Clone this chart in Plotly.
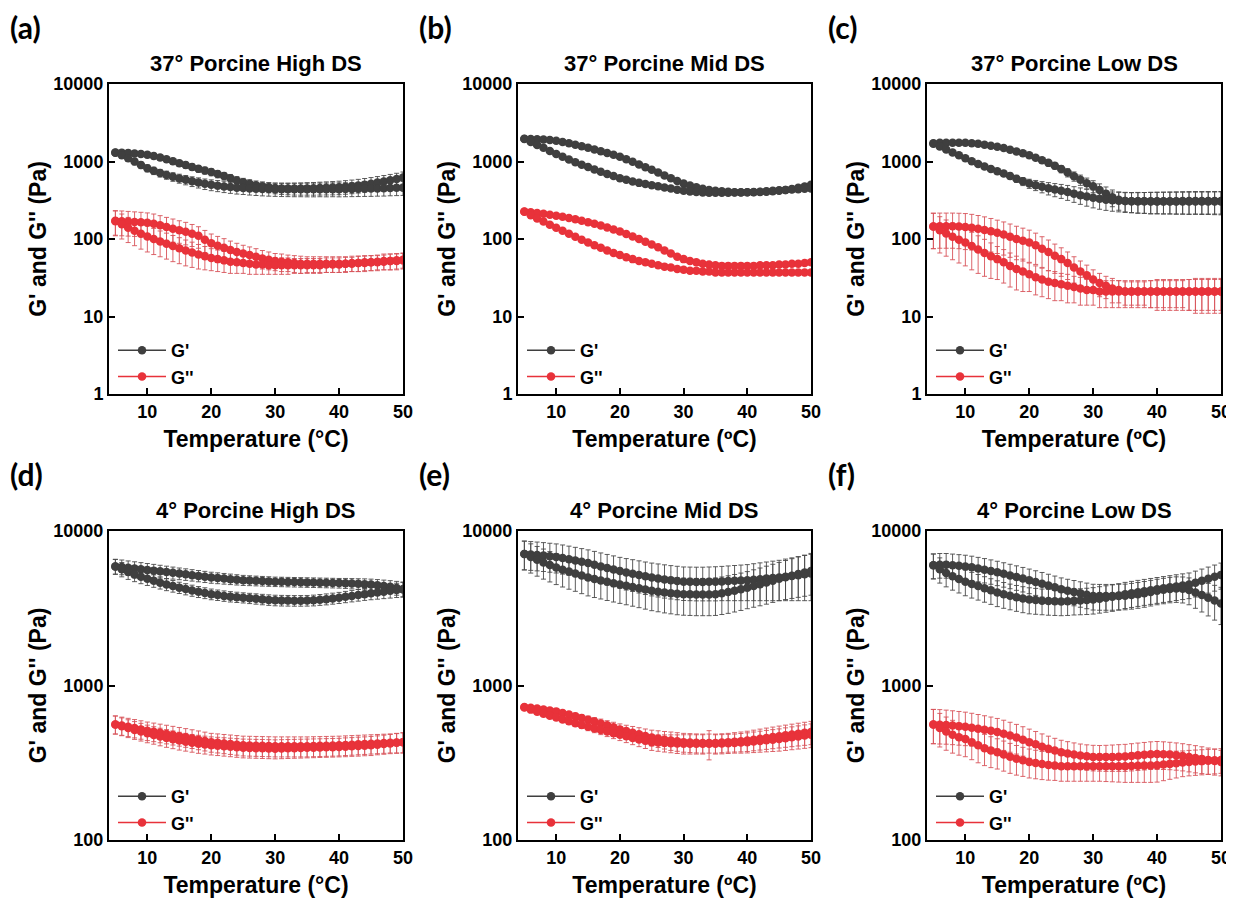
import plotly.graph_objects as go

# ---------------- data ----------------
TEMP = [5, 6, 7, 8, 9, 10, 11, 12, 13, 14, 15, 16, 17, 18, 19, 20, 21, 22, 23, 24, 25, 26, 27,
        28, 29, 30, 31, 32, 33, 34, 35, 36, 37, 38, 39, 40, 41, 42, 43, 44, 45, 46, 47, 48, 49, 50]

PANEL_TITLES = ["37° Porcine High DS", "37° Porcine Mid DS", "37° Porcine Low DS",
                "4° Porcine High DS", "4° Porcine Mid DS", "4° Porcine Low DS"]
PANEL_LABELS = ["(a)", "(b)", "(c)", "(d)", "(e)", "(f)"]
X_TITLES = ["Temperature (°C)", "Temperature (ºC)", "Temperature (ºC)",
            "Temperature (°C)", "Temperature (ºC)", "Temperature (ºC)"]
Y_TITLE = "G' and G'' (Pa)"
X_TICKS = [10, 20, 30, 40, 50]
Y_TICKS_TOP = [1, 10, 100, 1000, 10000]
Y_TICKS_BOTTOM = [100, 1000, 10000]
SERIES_NAMES = ["G'", "G''"]

# (a) 37° High DS
A_GP_UP = [1310, 1300, 1290, 1270, 1250, 1220, 1180, 1130, 1070, 1010, 950, 900, 850, 805, 765, 730, 690, 650, 610, 570, 540, 515, 495,
           478, 465, 455, 450, 448, 447, 448, 450, 452, 455, 458, 461, 465, 472, 480, 490, 503, 518, 535, 553, 573, 595, 620]
A_GP_DN = [1300, 1200, 1100, 1000, 900, 820, 760, 710, 670, 635, 605, 580, 555, 535, 515, 500, 488, 477, 468, 460, 455, 450, 446,
           443, 441, 440, 439, 438, 438, 438, 438, 438, 439, 439, 440, 440, 441, 442, 444, 445, 447, 449, 451, 454, 457, 460]
A_GP_UP_ERR = [110, 110, 110, 105, 100, 100, 98, 95, 92, 90, 88, 85, 82, 80, 78, 76, 74, 72, 70, 68, 66, 66, 66,
               68, 70, 72, 74, 76, 78, 80, 82, 84, 86, 88, 90, 92, 94, 96, 98, 100, 102, 104, 106, 108, 110, 112]
A_GP_DN_ERR = [110, 105, 100, 95, 90, 85, 82, 80, 80, 80, 80, 80, 80, 80, 80, 80, 80, 80, 80, 80, 80, 81, 82,
               83, 84, 85, 86, 86, 87, 87, 88, 88, 88, 89, 89, 90, 90, 90, 91, 91, 92, 92, 93, 93, 94, 95]
A_GPP_UP = [172, 170, 168, 166, 164, 162, 157, 150, 143, 136, 130, 124, 117, 110, 98, 88, 82, 77, 72, 68, 65, 62, 59,
            56, 54, 52, 51, 50, 49, 48, 48, 48, 48, 48, 48, 48, 48, 49, 49, 50, 50, 51, 52, 52, 53, 54]
A_GPP_DN = [170, 155, 140, 128, 117, 108, 100, 93, 87, 81, 76, 71, 67, 63, 60, 57, 55, 53, 51, 50, 49, 48, 47,
            47, 46, 46, 46, 46, 46, 46, 46, 46, 46, 47, 47, 47, 48, 48, 49, 49, 50, 50, 51, 52, 52, 53]
A_GPP_UP_ERR = [60, 60, 59, 58, 57, 55, 53, 50, 47, 45, 42, 40, 37, 34, 31, 28, 26, 24, 22, 20, 18, 17, 16,
                15, 14, 13, 13, 12, 12, 12, 11, 11, 11, 11, 11, 11, 11, 11, 11, 11, 11, 11, 12, 12, 12, 12]
A_GPP_DN_ERR = [60, 55, 50, 46, 43, 40, 37, 34, 32, 30, 28, 26, 24, 22, 20, 18, 17, 16, 15, 14, 13, 13, 12,
                12, 11, 11, 11, 11, 10, 10, 10, 10, 10, 10, 10, 10, 10, 10, 11, 11, 11, 11, 11, 12, 12, 12]

# (b) 37° Mid DS
B_GP_UP = [1960, 1950, 1940, 1920, 1890, 1850, 1790, 1720, 1650, 1575, 1500, 1430, 1360, 1290, 1220, 1150, 1070, 990, 915, 845, 780, 720, 660,
           610, 560, 520, 490, 465, 445, 430, 420, 412, 406, 402, 400, 400, 401, 404, 408, 414, 420, 430, 443, 458, 477, 500]
B_GP_DN = [1950, 1780, 1630, 1500, 1370, 1250, 1150, 1060, 980, 910, 850, 790, 735, 690, 648, 610, 580, 553, 530, 512, 495, 478, 462,
           447, 433, 420, 411, 404, 399, 396, 395, 395, 396, 397, 398, 400, 403, 407, 412, 418, 425, 430, 435, 440, 445, 450]
B_GP_UP_ERR = [80, 78, 76, 74, 72, 70, 68, 66, 63, 60, 57, 54, 51, 48, 46, 44, 42, 39, 36, 34, 32, 30, 28,
               26, 24, 22, 21, 20, 19, 18, 18, 18, 18, 18, 18, 18, 18, 18, 19, 19, 20, 20, 21, 22, 23, 24]
B_GP_DN_ERR = [80, 72, 66, 60, 55, 50, 46, 43, 40, 37, 35, 33, 31, 29, 27, 26, 25, 24, 23, 22, 21, 20, 20,
               19, 19, 18, 18, 18, 18, 18, 18, 18, 18, 18, 18, 18, 18, 18, 18, 19, 19, 19, 20, 20, 20, 21]
B_GPP_UP = [226, 222, 217, 212, 206, 200, 194, 187, 180, 172, 165, 157, 149, 141, 133, 125, 116, 108, 100, 92, 85, 78, 71,
            65, 59, 55, 52, 50, 48, 47, 46, 45, 45, 45, 45, 45, 45, 46, 46, 46, 47, 47, 48, 48, 49, 50]
B_GPP_DN = [224, 203, 184, 168, 153, 140, 128, 117, 107, 98, 90, 83, 77, 71, 66, 62, 58, 55, 52, 50, 48, 46, 44,
            43, 41, 40, 39, 39, 38, 38, 37, 37, 37, 37, 37, 37, 37, 37, 37, 37, 37, 37, 37, 37, 37, 37]
B_GPP_UP_ERR = [14, 14, 13, 13, 12, 12, 11, 11, 10, 10, 9, 9, 8, 8, 7, 7, 6, 6, 5, 5, 5, 4, 4,
                4, 3, 3, 3, 3, 3, 3, 3, 3, 3, 3, 3, 3, 3, 3, 3, 3, 3, 3, 3, 3, 3, 3]
B_GPP_DN_ERR = [14, 12, 11, 10, 9, 8, 8, 7, 6, 6, 5, 5, 5, 4, 4, 4, 4, 3, 3, 3, 3, 3, 3,
                3, 3, 2, 2, 2, 2, 2, 2, 2, 2, 2, 2, 2, 2, 2, 2, 2, 2, 2, 2, 2, 2, 2]

# (c) 37° Low DS
C_GP_UP = [1720, 1740, 1750, 1750, 1750, 1740, 1720, 1690, 1650, 1600, 1550, 1490, 1420, 1350, 1275, 1200, 1120, 1040, 960, 880, 800, 720, 645,
           580, 525, 480, 430, 385, 345, 320, 310, 307, 306, 306, 306, 307, 307, 308, 308, 309, 309, 310, 310, 310, 310, 310]
C_GP_DN = [1700, 1560, 1430, 1310, 1200, 1100, 1010, 930, 860, 800, 750, 700, 650, 600, 555, 520, 495, 472, 452, 435, 420, 403, 385,
           368, 353, 340, 330, 322, 316, 312, 310, 308, 307, 306, 305, 305, 305, 305, 305, 305, 305, 305, 305, 305, 305, 305]
C_GP_UP_ERR = [60, 60, 60, 60, 60, 60, 60, 60, 60, 62, 64, 66, 68, 70, 72, 75, 78, 80, 82, 84, 86, 88, 88,
               88, 86, 85, 84, 84, 84, 85, 86, 88, 90, 92, 94, 95, 96, 97, 98, 99, 100, 100, 100, 100, 100, 100]
C_GP_DN_ERR = [60, 56, 52, 50, 48, 46, 45, 45, 46, 48, 50, 54, 58, 62, 66, 70, 74, 78, 82, 84, 86, 88, 88,
               88, 88, 88, 88, 88, 88, 88, 90, 90, 92, 92, 94, 94, 95, 95, 96, 96, 97, 97, 98, 98, 99, 100]
C_GPP_UP = [145, 146, 146, 146, 145, 143, 140, 136, 131, 126, 120, 114, 107, 100, 95, 90, 83, 75, 68, 61, 55, 49, 43,
            38, 34, 30, 27, 25, 23, 22, 21, 21, 21, 21, 21, 21, 21, 21, 21, 21, 21, 21, 21, 21, 21, 21]
C_GPP_DN = [145, 130, 118, 107, 98, 90, 81, 73, 66, 60, 55, 50, 45, 41, 38, 35, 32, 30, 28, 27, 26, 25, 24,
            23, 22, 22, 21, 21, 21, 21, 21, 21, 21, 21, 21, 21, 21, 21, 21, 21, 21, 21, 21, 21, 21, 21]
C_GPP_UP_ERR = [70, 70, 70, 70, 70, 70, 68, 65, 62, 58, 55, 52, 49, 46, 43, 40, 36, 32, 29, 25, 22, 19, 16,
                14, 12, 10, 9, 8, 8, 7, 7, 7, 7, 7, 8, 8, 8, 8, 8, 8, 9, 9, 9, 9, 9, 9]
C_GPP_DN_ERR = [70, 64, 58, 53, 49, 45, 41, 37, 33, 29, 25, 23, 21, 19, 17, 14, 13, 12, 11, 11, 10, 10, 9,
                9, 8, 8, 8, 8, 8, 8, 8, 8, 8, 8, 8, 9, 9, 9, 9, 9, 9, 10, 10, 10, 10, 10]

# (d) 4° High DS
D_GP_UP = [5900, 5850, 5780, 5720, 5660, 5600, 5540, 5480, 5420, 5360, 5300, 5240, 5180, 5120, 5060, 5000, 4960, 4920, 4880, 4840, 4800, 4780, 4760,
           4740, 4720, 4700, 4690, 4680, 4670, 4660, 4650, 4640, 4630, 4620, 4610, 4600, 4590, 4570, 4550, 4530, 4500, 4460, 4410, 4350, 4280, 4200]
D_GP_DN = [5900, 5650, 5420, 5220, 5050, 4900, 4760, 4630, 4510, 4400, 4300, 4210, 4120, 4040, 3970, 3900, 3850, 3800, 3760, 3730, 3700, 3670, 3640,
           3610, 3580, 3560, 3550, 3545, 3540, 3540, 3545, 3560, 3590, 3620, 3660, 3700, 3750, 3800, 3850, 3900, 3950, 4000, 4050, 4100, 4150, 4200]
D_GP_UP_ERR = [650, 640, 620, 600, 580, 560, 540, 520, 500, 480, 460, 450, 440, 430, 420, 410, 400, 390, 380, 370, 360, 350, 345,
               340, 335, 330, 330, 330, 330, 330, 330, 330, 330, 330, 330, 330, 340, 350, 360, 370, 380, 390, 400, 420, 440, 460]
D_GP_DN_ERR = [650, 600, 560, 520, 490, 460, 440, 420, 400, 380, 360, 350, 340, 330, 320, 310, 300, 295, 290, 285, 280, 280, 280,
               280, 280, 280, 280, 280, 280, 280, 280, 285, 290, 295, 300, 305, 315, 325, 335, 345, 360, 380, 400, 420, 440, 460]
D_GPP_UP = [560, 550, 540, 530, 520, 510, 502, 494, 486, 478, 470, 462, 454, 446, 438, 430, 426, 422, 418, 414, 410, 409, 408,
            407, 406, 405, 405, 405, 405, 405, 405, 406, 407, 408, 409, 410, 412, 414, 416, 418, 420, 422, 424, 426, 428, 430]
D_GPP_DN = [560, 545, 530, 516, 503, 490, 479, 468, 458, 449, 440, 433, 426, 420, 415, 410, 407, 404, 401, 398, 395, 394, 393,
            392, 391, 390, 391, 392, 393, 394, 395, 396, 397, 398, 399, 400, 402, 404, 406, 408, 410, 414, 418, 422, 426, 430]
D_GPP_UP_ERR = [75, 74, 73, 72, 71, 70, 69, 68, 67, 66, 65, 64, 63, 62, 61, 60, 60, 60, 60, 60, 60, 60, 60,
                60, 60, 60, 60, 60, 60, 60, 60, 60, 60, 60, 60, 60, 60, 60, 60, 60, 60, 60, 60, 60, 62, 64]
D_GPP_DN_ERR = [75, 72, 70, 68, 66, 64, 62, 61, 60, 59, 58, 57, 56, 56, 55, 55, 55, 55, 55, 55, 55, 55, 55,
                55, 55, 55, 55, 55, 55, 55, 55, 55, 55, 55, 55, 55, 56, 56, 57, 57, 58, 58, 59, 60, 62, 64]

# (e) 4° Mid DS
E_GP_UP = [7100, 7050, 7000, 6940, 6870, 6800, 6690, 6570, 6450, 6320, 6200, 6050, 5900, 5760, 5630, 5500, 5390, 5290, 5190, 5090, 5000, 4930, 4860,
           4800, 4750, 4700, 4690, 4680, 4680, 4690, 4700, 4720, 4740, 4760, 4780, 4800, 4840, 4880, 4920, 4960, 5000, 5060, 5120, 5180, 5240, 5300]
E_GP_DN = [7100, 6800, 6520, 6260, 6020, 5800, 5620, 5460, 5310, 5150, 5000, 4890, 4790, 4690, 4590, 4500, 4420, 4340, 4260, 4180, 4100, 4050, 4000,
           3960, 3920, 3900, 3890, 3880, 3880, 3880, 3900, 3960, 4030, 4110, 4200, 4300, 4410, 4520, 4640, 4770, 4900, 5020, 5140, 5260, 5380, 5500]
E_GP_UP_ERR = [1500, 1490, 1480, 1470, 1460, 1450, 1430, 1410, 1390, 1370, 1350, 1330, 1310, 1290, 1270, 1250, 1240, 1230, 1220, 1210, 1200, 1190, 1180,
               1170, 1160, 1150, 1150, 1150, 1150, 1160, 1170, 1180, 1200, 1220, 1240, 1260, 1300, 1340, 1380, 1420, 1460, 1520, 1580, 1640, 1700, 1760]
E_GP_DN_ERR = [1500, 1460, 1420, 1380, 1340, 1300, 1280, 1260, 1240, 1220, 1200, 1180, 1160, 1140, 1120, 1100, 1090, 1080, 1070, 1060, 1050, 1050, 1050,
               1050, 1050, 1050, 1050, 1050, 1050, 1050, 1060, 1080, 1100, 1120, 1140, 1160, 1200, 1240, 1280, 1320, 1360, 1420, 1480, 1540, 1600, 1660]
E_GPP_UP = [725, 718, 710, 700, 690, 680, 664, 648, 632, 616, 600, 584, 568, 552, 536, 520, 507, 495, 483, 471, 460, 453, 446,
            440, 435, 430, 428, 426, 425, 425, 425, 427, 430, 433, 436, 440, 446, 452, 458, 464, 470, 476, 482, 488, 494, 500]
E_GPP_DN = [720, 698, 677, 657, 638, 620, 603, 586, 570, 555, 540, 527, 515, 503, 491, 480, 469, 458, 448, 439, 430, 427, 425,
            423, 421, 420, 420, 420, 420, 420, 420, 421, 423, 425, 427, 430, 434, 438, 442, 446, 450, 456, 462, 468, 474, 480]
E_GPP_UP_ERR = [20, 20, 21, 22, 23, 24, 26, 28, 30, 32, 34, 36, 38, 40, 42, 44, 46, 48, 50, 52, 54, 56, 58,
                60, 60, 60, 60, 60, 60, 60, 60, 60, 60, 62, 64, 66, 68, 70, 72, 74, 76, 78, 80, 82, 84, 86]
E_GPP_DN_ERR = [20, 20, 21, 22, 23, 24, 25, 26, 27, 28, 30, 32, 34, 36, 38, 40, 42, 44, 46, 48, 50, 52, 54,
                56, 58, 60, 60, 60, 60, 90, 60, 60, 60, 60, 62, 64, 66, 68, 70, 72, 74, 76, 78, 80, 82, 84]

# (f) 4° Low DS
F_GP_UP = [6000, 6050, 6050, 6000, 5950, 5900, 5820, 5720, 5620, 5510, 5400, 5280, 5160, 5040, 4920, 4800, 4680, 4560, 4440, 4320, 4200, 4110, 4030,
           3950, 3870, 3800, 3790, 3790, 3790, 3800, 3810, 3850, 3900, 3960, 4030, 4100, 4160, 4220, 4250, 4230, 4150, 4000, 3850, 3700, 3550, 3400]
F_GP_DN = [6000, 5650, 5350, 5100, 4890, 4700, 4540, 4400, 4260, 4130, 4000, 3900, 3810, 3730, 3660, 3600, 3570, 3540, 3520, 3510, 3500, 3510, 3530,
           3550, 3570, 3600, 3650, 3700, 3750, 3820, 3900, 3960, 4020, 4080, 4140, 4200, 4260, 4320, 4380, 4440, 4500, 4620, 4760, 4900, 5050, 5200]
F_GP_UP_ERR = [1100, 1100, 1100, 1090, 1080, 1070, 1050, 1030, 1010, 990, 970, 950, 930, 910, 890, 870, 850, 830, 810, 790, 770, 760, 750,
               740, 730, 720, 720, 720, 720, 720, 720, 730, 740, 750, 760, 770, 780, 790, 800, 810, 820, 840, 860, 880, 900, 920]
F_GP_DN_ERR = [1100, 1050, 1000, 960, 920, 890, 860, 830, 800, 780, 760, 740, 720, 710, 700, 690, 680, 670, 670, 670, 670, 670, 670,
               680, 690, 700, 710, 720, 730, 740, 750, 760, 770, 780, 790, 800, 810, 820, 830, 840, 850, 880, 910, 940, 970, 1000]
F_GPP_UP = [560, 558, 555, 550, 545, 540, 533, 525, 517, 509, 500, 488, 474, 460, 445, 430, 416, 402, 390, 379, 370, 363, 357,
            352, 348, 345, 344, 344, 345, 346, 347, 350, 353, 356, 359, 360, 359, 357, 354, 350, 345, 340, 335, 330, 325, 320]
F_GPP_DN = [560, 530, 503, 480, 463, 450, 430, 410, 393, 380, 370, 358, 346, 336, 328, 320, 315, 310, 306, 303, 300, 300, 300,
            300, 300, 300, 300, 300, 300, 300, 300, 301, 302, 303, 304, 305, 308, 311, 314, 317, 320, 322, 324, 326, 328, 330]
F_GPP_UP_ERR = [140, 140, 138, 136, 134, 132, 128, 124, 120, 116, 112, 108, 104, 100, 96, 92, 88, 84, 80, 76, 72, 70, 68,
                66, 65, 65, 65, 66, 67, 68, 69, 70, 71, 72, 73, 74, 73, 72, 71, 70, 69, 68, 66, 64, 62, 60]
F_GPP_DN_ERR = [140, 130, 122, 115, 109, 104, 99, 94, 90, 86, 82, 79, 76, 73, 70, 68, 66, 64, 62, 60, 60, 60, 60,
                60, 60, 60, 60, 61, 62, 63, 64, 65, 66, 67, 68, 68, 66, 64, 62, 60, 60, 60, 60, 60, 60, 60]

GP_LISTS = [(A_GP_UP, A_GP_DN, A_GP_UP_ERR, A_GP_DN_ERR), (B_GP_UP, B_GP_DN, B_GP_UP_ERR, B_GP_DN_ERR),
            (C_GP_UP, C_GP_DN, C_GP_UP_ERR, C_GP_DN_ERR), (D_GP_UP, D_GP_DN, D_GP_UP_ERR, D_GP_DN_ERR),
            (E_GP_UP, E_GP_DN, E_GP_UP_ERR, E_GP_DN_ERR), (F_GP_UP, F_GP_DN, F_GP_UP_ERR, F_GP_DN_ERR)]
GPP_LISTS = [(A_GPP_UP, A_GPP_DN, A_GPP_UP_ERR, A_GPP_DN_ERR), (B_GPP_UP, B_GPP_DN, B_GPP_UP_ERR, B_GPP_DN_ERR),
             (C_GPP_UP, C_GPP_DN, C_GPP_UP_ERR, C_GPP_DN_ERR), (D_GPP_UP, D_GPP_DN, D_GPP_UP_ERR, D_GPP_DN_ERR),
             (E_GPP_UP, E_GPP_DN, E_GPP_UP_ERR, E_GPP_DN_ERR), (F_GPP_UP, F_GPP_DN, F_GPP_UP_ERR, F_GPP_DN_ERR)]

# ---------------- styling / layout ----------------
W, H = 1234, 902
OFF = 8  # page body margin offset compensation
FONT = "Liberation Sans, Arial, sans-serif"
C_GP = "#3f3f3f"
C_GPP = "#e8323a"
C_GP_ERR = "#4a4a4a"
C_GPP_ERR = "#d8545a"

# plot boxes in page pixels: left, right, top, bottom
BOX_X = [(109, 403), (518, 811), (927, 1221)]
BOX_Y = [(84, 394), (531, 840)]


def px(v):
    return (v - OFF) / W


def py(v):
    return 1 - (v - OFF) / H


fig = go.Figure()

for i in range(6):
    n = i + 1
    xa = "x" if n == 1 else f"x{n}"
    ya = "y" if n == 1 else f"y{n}"
    leg = "legend" if n == 1 else f"legend{n}"
    for (lists, name, col, ecol) in [(GP_LISTS[i], SERIES_NAMES[0], C_GP, C_GP_ERR),
                                     (GPP_LISTS[i], SERIES_NAMES[1], C_GPP, C_GPP_ERR)]:
        up, dn, eup, edn = lists
        fig.add_trace(go.Scatter(
            x=TEMP + [None] + TEMP,
            y=up + [None] + dn,
            error_y=dict(type="data", array=eup + [0] + edn, visible=True,
                         color=ecol, thickness=0.9, width=2.5),
            mode="lines+markers",
            line=dict(color=col, width=1.5),
            marker=dict(color=col, size=8.5),
            name=name, xaxis=xa, yaxis=ya, legend=leg,
        ))

layout = dict(
    width=W, height=H, margin=dict(l=0, r=0, t=0, b=0, autoexpand=False),
    paper_bgcolor="white", plot_bgcolor="white",
    font=dict(family=FONT, color="black"),
    showlegend=True,
)

annotations = []
for i in range(6):
    r, c = divmod(i, 3)
    n = i + 1
    xl, xr = BOX_X[c]
    yt, yb = BOX_Y[r]
    xdom = [px(xl), px(xr)]
    ydom = [py(yb), py(yt)]
    xkey = "xaxis" if n == 1 else f"xaxis{n}"
    ykey = "yaxis" if n == 1 else f"yaxis{n}"
    yticks = Y_TICKS_TOP if r == 0 else Y_TICKS_BOTTOM
    common = dict(showline=True, linecolor="black", linewidth=2, mirror=True,
                  ticks="inside", ticklen=6, tickwidth=2, tickcolor="black",
                  showgrid=False, zeroline=False, automargin=False,
                  tickfont=dict(family=FONT, size=18, weight="bold", color="black"))
    layout[xkey] = dict(domain=xdom, range=[4, 50], tickvals=X_TICKS,
                        ticktext=[str(t) for t in X_TICKS],
                        anchor="y" if n == 1 else f"y{n}",
                        title=dict(text=X_TITLES[i], standoff=10,
                                   font=dict(family=FONT, size=23, weight="bold", color="black")),
                        **common)
    layout[ykey] = dict(domain=ydom, type="log",
                        range=[0, 4] if r == 0 else [2, 4],
                        tickvals=yticks, ticktext=[str(t) for t in yticks],
                        anchor="x" if n == 1 else f"x{n}",
                        title=dict(text=Y_TITLE, standoff=0,
                                   font=dict(family=FONT, size=23, weight="bold", color="black")),
                        **common)
    legkey = "legend" if n == 1 else f"legend{n}"
    layout[legkey] = dict(x=px(xl + 4), y=py(yb - 62), xanchor="left", yanchor="top",
                          bgcolor="rgba(0,0,0,0)", borderwidth=0, tracegroupgap=0,
                          itemwidth=48,
                          font=dict(family=FONT, size=18, weight="bold", color="black"))
    # subplot title
    annotations.append(dict(text=PANEL_TITLES[i], xref="paper", yref="paper",
                            x=px((xl + xr) / 2), y=py(yt), xanchor="center", yanchor="bottom",
                            yshift=6, showarrow=False,
                            font=dict(family=FONT, size=22, weight="bold", color="black")))
    # panel label
    annotations.append(dict(text=PANEL_LABELS[i], xref="paper", yref="paper",
                            x=px(xl - 101), y=py(yt - 57), xanchor="left", yanchor="middle",
                            showarrow=False,
                            font=dict(family="Lato, Open Sans, sans-serif", size=30, weight="bold", color="black")))

layout["annotations"] = annotations
fig.update_layout(**layout)
fig.write_html("out.html")
